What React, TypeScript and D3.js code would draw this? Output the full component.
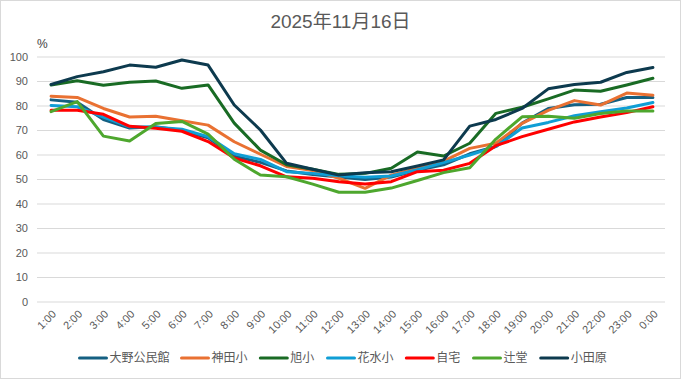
import React, { useEffect } from "react";
import * as d3 from "d3";

const categories = ["1:00","2:00","3:00","4:00","5:00","6:00","7:00","8:00","9:00","10:00","11:00","12:00","13:00","14:00","15:00","16:00","17:00","18:00","19:00","20:00","21:00","22:00","23:00","0:00"];

const seriesNames = ["大野公民館","神田小","旭小","花水小","自宅","辻堂","小田原"];

const oono = [82.5, 81.5, 74.5, 71, 71.5, 70, 67, 59.5, 57, 53.5, 52, 51, 50, 51, 53.8, 56, 60.5, 63.5, 73, 79, 80.5, 80.7, 83.5, 83.5];
const kanda = [84, 83.5, 79, 75.5, 75.8, 74, 72.2, 65.4, 60.3, 55.3, 53.7, 50.5, 46.4, 51.8, 54.6, 57.5, 62.7, 64.8, 72.9, 78.2, 82.2, 80.4, 85.3, 84.4];
const asahi = [88.6, 90.3, 88.5, 89.7, 90.2, 87.2, 88.6, 73, 62, 56, 54.2, 52.1, 52.5, 54.6, 61.2, 59.6, 64.8, 77, 79.5, 82.9, 86.5, 86, 88.6, 91.3];
const hanamizu = [80.2, 79.7, 75.5, 71.5, 71.3, 70.5, 67.5, 60.5, 58.2, 53.2, 52.5, 51.5, 50.9, 51.4, 54, 56.9, 60, 63.4, 71, 73.3, 76, 77.7, 79.2, 81.4];
const jitaku = [78.3, 78.3, 76.6, 71.7, 70.9, 69.7, 65.5, 58.8, 55.6, 51.1, 50.5, 49.1, 48.2, 49.1, 53.2, 53.8, 56.6, 63.8, 67.5, 70.5, 73.5, 75.5, 77.3, 79.7];
const tsujido = [77.7, 81.8, 67.7, 65.7, 72.9, 73.7, 68.5, 58.3, 51.8, 51.1, 48.1, 44.8, 44.8, 46.5, 49.6, 52.8, 54.8, 66.5, 75.6, 75.8, 75, 76.9, 78, 78];
const odawara = [88.8, 92, 94, 96.7, 95.8, 98.8, 96.7, 80.4, 70.2, 56.6, 54.2, 51.8, 52.8, 53.2, 55.5, 58, 71.8, 74.5, 79, 87, 88.8, 89.7, 93.7, 95.7];

const seriesValues = [oono, kanda, asahi, hanamizu, jitaku, tsujido, odawara];
const seriesColors = ["#156082", "#E97132", "#196B24", "#0F9ED5", "#FF0000", "#4EA72E", "#0D3A4E"];

const yTicks = [0, 10, 20, 30, 40, 50, 60, 70, 80, 90, 100];
const title = "2025年11月16日";

const W = 681;
const H = 379;
const FONT = "'Liberation Sans', 'Noto Sans CJK JP', sans-serif";

export default function App() {
  useEffect(() => {
    document.body.style.margin = "0";
  }, []);

  const x = d3.scaleBand<string>().domain(categories).range([38, 666]);
  const y = d3.scaleLinear().domain([0, 100]).range([302, 57]);
  const cx = (c: string) => (x(c) as number) + x.bandwidth() / 2;

  const line = d3
    .line<number>()
    .x((_, i) => cx(categories[i]))
    .y((d) => y(d));

  // legend layout
  const lineLen = 27;
  const textGap = 3;
  const charW = 11.6;
  const itemGap = 14;
  const widths = seriesNames.map((n) => lineLen + textGap + n.length * charW + itemGap);
  const total = d3.sum(widths) - itemGap;
  let lx = (W - total) / 2 + 2;
  const legendItems = seriesNames.map((n, i) => {
    const item = { name: n, x: lx, color: seriesColors[i] };
    lx += widths[i];
    return item;
  });
  const legendY = 358;

  return (
    <svg width={W} height={H} style={{ display: "block", fontFamily: FONT }}>
      <rect x={0.5} y={0.5} width={W - 1} height={H - 1} fill="#fff" stroke="#D9D9D9" />
      <text x={W / 2} y={28} textAnchor="middle" fontSize={19} fill="#595959">
        {title}
      </text>
      <text x={37} y={48} fontSize={12} fill="#404040">%</text>
      {yTicks.map((t) => (
        <g key={t}>
          <line x1={37} x2={665} y1={y(t)} y2={y(t)} stroke="#D9D9D9" strokeWidth={1} />
          <text x={28} y={y(t)} dy="0.35em" textAnchor="end" fontSize={11} fill="#595959">
            {t}
          </text>
        </g>
      ))}
      {categories.map((c) => (
        <text
          key={c}
          transform={`translate(${cx(c) + 3},${312}) rotate(-45)`}
          textAnchor="end"
          dy="0.35em"
          fontSize={11}
          fill="#595959"
        >
          {c}
        </text>
      ))}
      {seriesValues.map((vals, i) => (
        <path
          key={seriesNames[i]}
          d={line(vals) as string}
          fill="none"
          stroke={seriesColors[i]}
          strokeWidth={3}
          strokeLinejoin="round"
          strokeLinecap="round"
        />
      ))}
      {legendItems.map((it) => (
        <g key={it.name}>
          <line
            x1={it.x}
            x2={it.x + lineLen}
            y1={legendY}
            y2={legendY}
            stroke={it.color}
            strokeWidth={3}
            strokeLinecap="round"
          />
          <text x={it.x + lineLen + textGap} y={legendY} dy="0.36em" fontSize={12} fill="#595959">
            {it.name}
          </text>
        </g>
      ))}
    </svg>
  );
}
